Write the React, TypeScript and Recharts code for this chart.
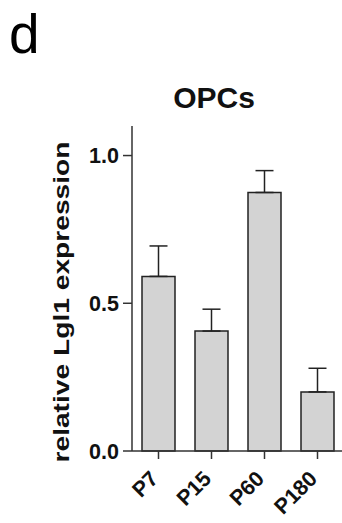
import React from "react";
import { BarChart, Bar, XAxis, YAxis, ErrorBar } from "recharts";

const AGES = ["P7", "P15", "P60", "P180"];
const MEANS = [0.591, 0.406, 0.875, 0.2];
const ERRORS = [0.103, 0.074, 0.074, 0.08];
const Y_TICKS = [0, 0.5, 1.0];

const FONT = "'Liberation Sans', Arial, sans-serif";

const data = AGES.map((age, i) => ({
  age,
  value: MEANS[i],
  err: [0, ERRORS[i]],
}));

const AgeTick = (props: any) => {
  const { x, y, payload } = props;
  return (
    <text
      transform={`translate(${x + 1},${y + 19}) rotate(-45)`}
      textAnchor="end"
      fontFamily={FONT}
      fontWeight="bold"
      fontSize={21.5}
      fill="#111"
    >
      {payload.value}
    </text>
  );
};

export default function App() {
  return (
    <div
      style={{
        position: "absolute",
        left: 0,
        top: 0,
        width: 342,
        height: 523,
        overflow: "hidden",
        background: "#fff",
      }}
    >
      <BarChart
        width={344}
        height={523}
        data={data}
        margin={{ top: 126, right: 0, bottom: 0, left: 0 }}
      >
        <XAxis
          dataKey="age"
          height={72}
          tickSize={8}
          tick={<AgeTick />}
          axisLine={{ stroke: "#333", strokeWidth: 1.5 }}
          tickLine={{ stroke: "#333", strokeWidth: 1.5 }}
        />
        <YAxis
          width={132}
          domain={[0, 1.1]}
          ticks={Y_TICKS}
          tickFormatter={(v: number) => v.toFixed(1)}
          tickSize={9}
          tickMargin={4}
          axisLine={{ stroke: "#333", strokeWidth: 1.5 }}
          tickLine={{ stroke: "#333", strokeWidth: 1.5 }}
          tick={{
            fontFamily: FONT,
            fontWeight: "bold",
            fontSize: 21.5,
            fill: "#111",
          }}
        />
        <Bar
          dataKey="value"
          barSize={33}
          fill="#d3d3d3"
          stroke="#222"
          strokeWidth={1.5}
          isAnimationActive={false}
        >
          <ErrorBar
            dataKey="err"
            direction="y"
            width={9}
            stroke="#222"
            strokeWidth={1.5}
            isAnimationActive={false}
          />
        </Bar>
      </BarChart>
      <svg
        width={342}
        height={523}
        style={{ position: "absolute", left: 0, top: 0, pointerEvents: "none" }}
      >
        <text x={9} y={53} fontFamily={FONT} fontSize={55} fill="#000">
          d
        </text>
        <text
          x={214}
          y={108}
          textAnchor="middle"
          fontFamily={FONT}
          fontWeight="bold"
          fontSize={30}
          fill="#111"
        >
          OPCs
        </text>
        <text
          transform="translate(68.5,302) rotate(-90)"
          textAnchor="middle"
          fontFamily={FONT}
          fontWeight="bold"
          fontSize={21.5}
          fill="#111"
          textLength={321}
          lengthAdjust="spacingAndGlyphs"
        >
          relative Lgl1 expression
        </text>
      </svg>
    </div>
  );
}
